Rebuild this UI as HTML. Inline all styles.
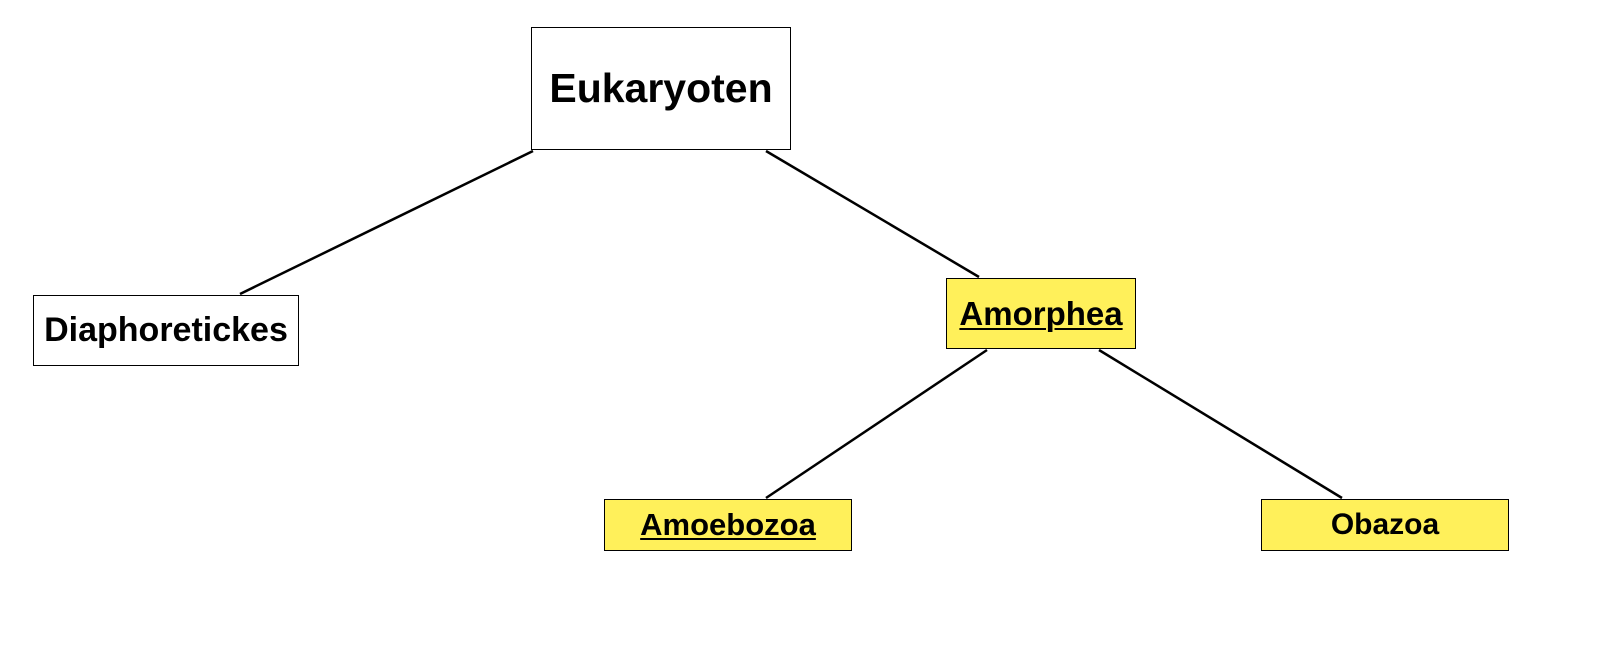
<!DOCTYPE html>
<html><head><meta charset="utf-8"><style>
body{margin:0;width:1600px;height:670px;background:#fff;position:relative;overflow:hidden;font-family:"Liberation Sans",sans-serif;font-weight:bold;}
.b{position:absolute;box-sizing:border-box;border:1.5px solid #000;display:flex;align-items:center;justify-content:center;color:#000;}
.y{background:#fff05a;}
u{text-decoration-thickness:2px;text-underline-offset:3px;}
svg{position:absolute;left:0;top:0;}
</style></head><body>
<svg width="1600" height="670"><g stroke="#000" stroke-width="2.5">
<line x1="533" y1="151" x2="240" y2="294"/>
<line x1="766" y1="151" x2="979" y2="277"/>
<line x1="987" y1="350" x2="766" y2="498"/>
<line x1="1099" y1="350" x2="1342" y2="498"/>
</g></svg>
<div class="b" style="left:531px;top:27px;width:260px;height:123px;font-size:41px;">Eukaryoten</div>
<div class="b" style="left:33px;top:295px;width:266px;height:71px;font-size:34px;">Diaphoretickes</div>
<div class="b y" style="left:946px;top:278px;width:190px;height:71px;font-size:33px;"><u>Amorphea</u></div>
<div class="b y" style="left:604px;top:499px;width:248px;height:52px;font-size:31px;"><u>Amoebozoa</u></div>
<div class="b y" style="left:1261px;top:499px;width:248px;height:52px;font-size:30px;">Obazoa</div>
</body></html>
